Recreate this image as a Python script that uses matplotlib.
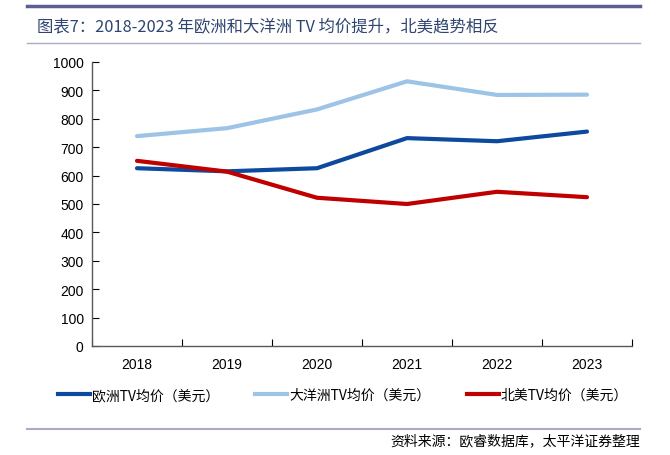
import matplotlib
matplotlib.use('Agg')
import matplotlib.pyplot as plt
from matplotlib.lines import Line2D

plt.rcParams['font.family'] = ['Liberation Sans', 'Noto Sans CJK SC', 'DejaVu Sans']

years = ['2018', '2019', '2020', '2021', '2022', '2023']
europe = [626, 615, 626, 732, 721, 755]
oceania = [739, 767, 833, 932, 884, 885]
north_america = [652, 614, 522, 500, 543, 524]

labels = ['欧洲TV均价（美元）', '大洋洲TV均价（美元）', '北美TV均价（美元）']
colors = ['#0d4a9e', '#9dc3e6', '#c00000']

W, H = 670, 456
fig = plt.figure(figsize=(W / 100, H / 100), dpi=100)
ax = fig.add_axes([92 / W, 1 - 347 / H, 540 / W, (347 - 63) / H])

x = range(len(years))
for vals, c in zip([europe, oceania, north_america], colors):
    ax.plot(x, vals, color=c, lw=3, solid_capstyle='round')

ax.set_xlim(-0.5, 5.5)
ax.set_ylim(0, 1000)
ax.set_yticks(range(0, 1001, 100))
ax.set_xticks([i - 0.5 for i in range(7)], minor=False)
ax.set_xticklabels([])
ax.set_xticks(list(x), minor=True)
ax.set_xticklabels(years, minor=True)
ax.tick_params(axis='x', which='minor', length=0, pad=8)
ax.tick_params(axis='x', which='major', length=5, direction='in', color='#595959')
ax.tick_params(axis='y', length=5, direction='in', color='#595959', pad=6)
ax.tick_params(labelsize=10, colors='#000000')
for lab in ax.get_xticklabels(minor=True) + ax.get_yticklabels():
    lab.set_color('#000000')
for s in ['top', 'right']:
    ax.spines[s].set_visible(False)
for s in ['left', 'bottom']:
    ax.spines[s].set_color('#595959')
    ax.spines[s].set_linewidth(1)

handles = [Line2D([0], [0], color=c, lw=3) for c in colors]
fig.legend(handles, labels, loc='center', bbox_to_anchor=(343 / W, 1 - 396 / H),
           ncol=3, frameon=False, handlelength=2.3,
           handletextpad=0.15, columnspacing=2.6,
           prop={'family': ['Noto Sans CJK SC'], 'size': 10})

# decorative rules
fig.add_artist(Line2D([27 / W, 640 / W], [1 - 7 / H, 1 - 7 / H], color='#5c5f91', lw=2.5))
fig.add_artist(Line2D([27 / W, 640 / W], [1 - 44 / H, 1 - 44 / H], color='#a9abc6', lw=1))
fig.add_artist(Line2D([27 / W, 640 / W], [1 - 430 / H, 1 - 430 / H], color='#a9abc6', lw=1.5))

fig.text(37 / W, 1 - 27 / H, '图表7：2018-2023 年欧洲和大洋洲 TV 均价提升，北美趋势相反',
         fontsize=11.8, color='#2f4570', va='center', ha='left',
         family=['Noto Sans CJK SC', 'DejaVu Sans'])
fig.text(640 / W, 1 - 441 / H, '资料来源：欧睿数据库，太平洋证券整理',
         fontsize=10, color='#000000', va='center', ha='right', style='italic',
         family=['Noto Sans CJK SC', 'DejaVu Sans'])

fig.savefig('out.png', dpi=100)
